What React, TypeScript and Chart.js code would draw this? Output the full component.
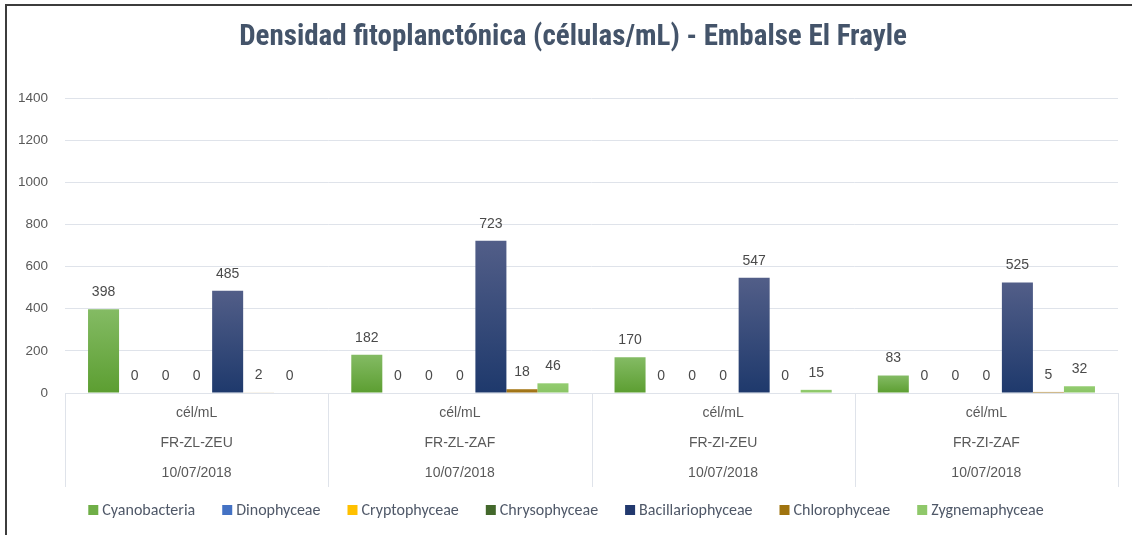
import React, { useEffect, useRef } from "react";
import { Chart, registerables } from "chart.js";

Chart.register(...registerables);

const titleText = "Densidad fitoplanctónica (células/mL) - Embalse El Frayle";
const categories: string[][] = [
  ["cél/mL", "FR-ZL-ZEU", "10/07/2018"],
  ["cél/mL", "FR-ZL-ZAF", "10/07/2018"],
  ["cél/mL", "FR-ZI-ZEU", "10/07/2018"],
  ["cél/mL", "FR-ZI-ZAF", "10/07/2018"],
];
const cyanobacteria = [398, 182, 170, 83];
const dinophyceae = [0, 0, 0, 0];
const cryptophyceae = [0, 0, 0, 0];
const chrysophyceae = [0, 0, 0, 0];
const bacillariophyceae = [485, 723, 547, 525];
const chlorophyceae = [2, 18, 0, 5];
const zygnemaphyceae = [0, 46, 15, 32];
const yMax = 1400;
const yStep = 200;

const seriesNames = [
  "Cyanobacteria",
  "Dinophyceae",
  "Cryptophyceae",
  "Chrysophyceae",
  "Bacillariophyceae",
  "Chlorophyceae",
  "Zygnemaphyceae",
];
const seriesData = [
  cyanobacteria,
  dinophyceae,
  cryptophyceae,
  chrysophyceae,
  bacillariophyceae,
  chlorophyceae,
  zygnemaphyceae,
];
const seriesColors: { top: string; bottom: string; swatch: string }[] = [
  { top: "#84bb64", bottom: "#5c9e31", swatch: "#6fae47" },
  { top: "#5b86d0", bottom: "#3b68ba", swatch: "#4472c4" },
  { top: "#ffcd3a", bottom: "#f5b800", swatch: "#ffc000" },
  { top: "#4c7232", bottom: "#355222", swatch: "#43682b" },
  { top: "#525e88", bottom: "#1e396c", swatch: "#22396e" },
  { top: "#a97c1d", bottom: "#9a6e12", swatch: "#a0740f" },
  { top: "#93cc70", bottom: "#8ac465", swatch: "#8fc86a" },
];

const TEXT = "#595959";
const GRID = "#dfe3ea";

export default function App() {
  const ref = useRef<HTMLCanvasElement | null>(null);

  useEffect(() => {
    document.body.style.margin = "0";
    const canvas = ref.current;
    if (!canvas) return;

    const framePlugin = {
      id: "frame",
      beforeDraw(chart: any) {
        const c = chart.ctx;
        c.save();
        c.fillStyle = "#ffffff";
        c.fillRect(0, 0, chart.width, chart.height);
        c.restore();
      },
      afterDraw(chart: any) {
        const c = chart.ctx;
        c.save();
        c.strokeStyle = "#3c3c3c";
        c.lineWidth = 2;
        c.beginPath();
        c.moveTo(6, chart.height + 2);
        c.lineTo(6, 5);
        c.lineTo(chart.width + 2, 5);
        c.stroke();
        // title
        c.font =
          "bold 29px 'Liberation Sans Narrow', 'Arial Narrow', 'Roboto Condensed', 'Liberation Sans', sans-serif";
        c.fillStyle = "#44546a";
        c.textAlign = "center";
        c.textBaseline = "middle";
        c.fillText(titleText, chart.width / 2 + 7, 38);
        c.restore();
      },
    };

    const separatorsPlugin = {
      id: "separators",
      afterDraw(chart: any) {
        const xs = chart.scales.x;
        const area = chart.chartArea;
        const n = chart.data.labels.length;
        const c = chart.ctx;
        c.save();
        c.strokeStyle = GRID;
        c.lineWidth = 1;
        for (let i = 0; i <= n; i++) {
          const x = Math.round(xs.getPixelForValue(i - 0.5)) + 0.5;
          c.beginPath();
          c.moveTo(x, area.bottom);
          c.lineTo(x, xs.bottom);
          c.stroke();
        }
        c.restore();
      },
    };

    const valueLabelsPlugin = {
      id: "valueLabels",
      afterDatasetsDraw(chart: any) {
        const c = chart.ctx;
        c.save();
        c.font = "14px 'Liberation Sans', Arial, sans-serif";
        c.fillStyle = "#4a4a4a";
        c.textAlign = "center";
        c.textBaseline = "middle";
        chart.data.datasets.forEach((ds: any, di: number) => {
          const meta = chart.getDatasetMeta(di);
          meta.data.forEach((bar: any, i: number) => {
            const v = ds.data[i];
            c.fillText(String(v), bar.x, bar.y - 17);
          });
        });
        c.restore();
      },
    };

    const legendPlugin = {
      id: "customLegend",
      afterDraw(chart: any) {
        const c = chart.ctx;
        c.save();
        c.font = "16px Carlito, Lato, 'Open Sans', sans-serif";
        const box = 10;
        const gap = 4;
        const spacing = 27;
        const items = chart.data.datasets.map((ds: any, i: number) => {
          const w = c.measureText(ds.label).width;
          return { label: ds.label, color: seriesColors[i].swatch, w: box + gap + w };
        });
        const total =
          items.reduce((s: number, it: any) => s + it.w, 0) + spacing * (items.length - 1);
        let x = (chart.width - total) / 2;
        const yc = 510;
        c.textBaseline = "middle";
        c.textAlign = "left";
        items.forEach((it: any) => {
          c.fillStyle = it.color;
          c.fillRect(x, yc - box / 2, box, box);
          c.fillStyle = "#4f5868";
          c.fillText(it.label, x + box + gap, yc + 1);
          x += it.w + spacing;
        });
        c.restore();
      },
    };

    const makeGradient = (ctx: any, di: number) => {
      const chart = ctx.chart;
      const ys = chart.scales?.y;
      const colors = seriesColors[di];
      if (!ys || ctx.type !== "data") return colors.swatch;
      const v = ctx.raw as number;
      const top = ys.getPixelForValue(v);
      const bottom = ys.getPixelForValue(0);
      if (!isFinite(top) || !isFinite(bottom) || bottom - top < 1) return colors.swatch;
      const g = chart.ctx.createLinearGradient(0, top, 0, bottom);
      g.addColorStop(0, colors.top);
      g.addColorStop(1, colors.bottom);
      return g;
    };

    const chart = new Chart(canvas, {
      type: "bar",
      data: {
        labels: categories,
        datasets: seriesNames.map((name, di) => ({
          label: name,
          data: seriesData[di],
          backgroundColor: (ctx: any) => makeGradient(ctx, di),
          borderWidth: 0,
          categoryPercentage: 0.825,
          barPercentage: 1.0,
        })),
      },
      options: {
        animation: false,
        responsive: false,
        devicePixelRatio: 1,
        layout: { padding: { left: 0, right: 14, top: 98, bottom: 48 } },
        plugins: {
          legend: { display: false },
          tooltip: { enabled: false },
          title: { display: false },
        },
        scales: {
          x: {
            grid: { display: false, drawTicks: false },
            border: { display: true, color: GRID, width: 1 },
            ticks: {
              color: TEXT,
              font: { family: "'Liberation Sans', Arial, sans-serif", size: 14, lineHeight: 30 / 14 },
              padding: 5,
              maxRotation: 0,
              autoSkip: false,
            },
            afterFit(scale: any) {
              scale.height = 94;
            },
          },
          y: {
            min: 0,
            max: yMax,
            grid: { color: GRID, drawTicks: false, lineWidth: 1 },
            border: { display: false },
            ticks: {
              stepSize: yStep,
              color: TEXT,
              padding: 17,
              font: { family: "'Liberation Sans', Arial, sans-serif", size: 13.5 },
              callback: (v: any) => String(v),
            },
            afterFit(scale: any) {
              scale.width = 65;
            },
          },
        },
      },
      plugins: [framePlugin, separatorsPlugin, valueLabelsPlugin, legendPlugin],
    } as any);

    return () => chart.destroy();
  }, []);

  return (
    <div style={{ width: 1132, height: 535, overflow: "hidden", background: "#fff" }}>
      <canvas ref={ref} width={1132} height={535} style={{ display: "block", width: 1132, height: 535 }} />
    </div>
  );
}
